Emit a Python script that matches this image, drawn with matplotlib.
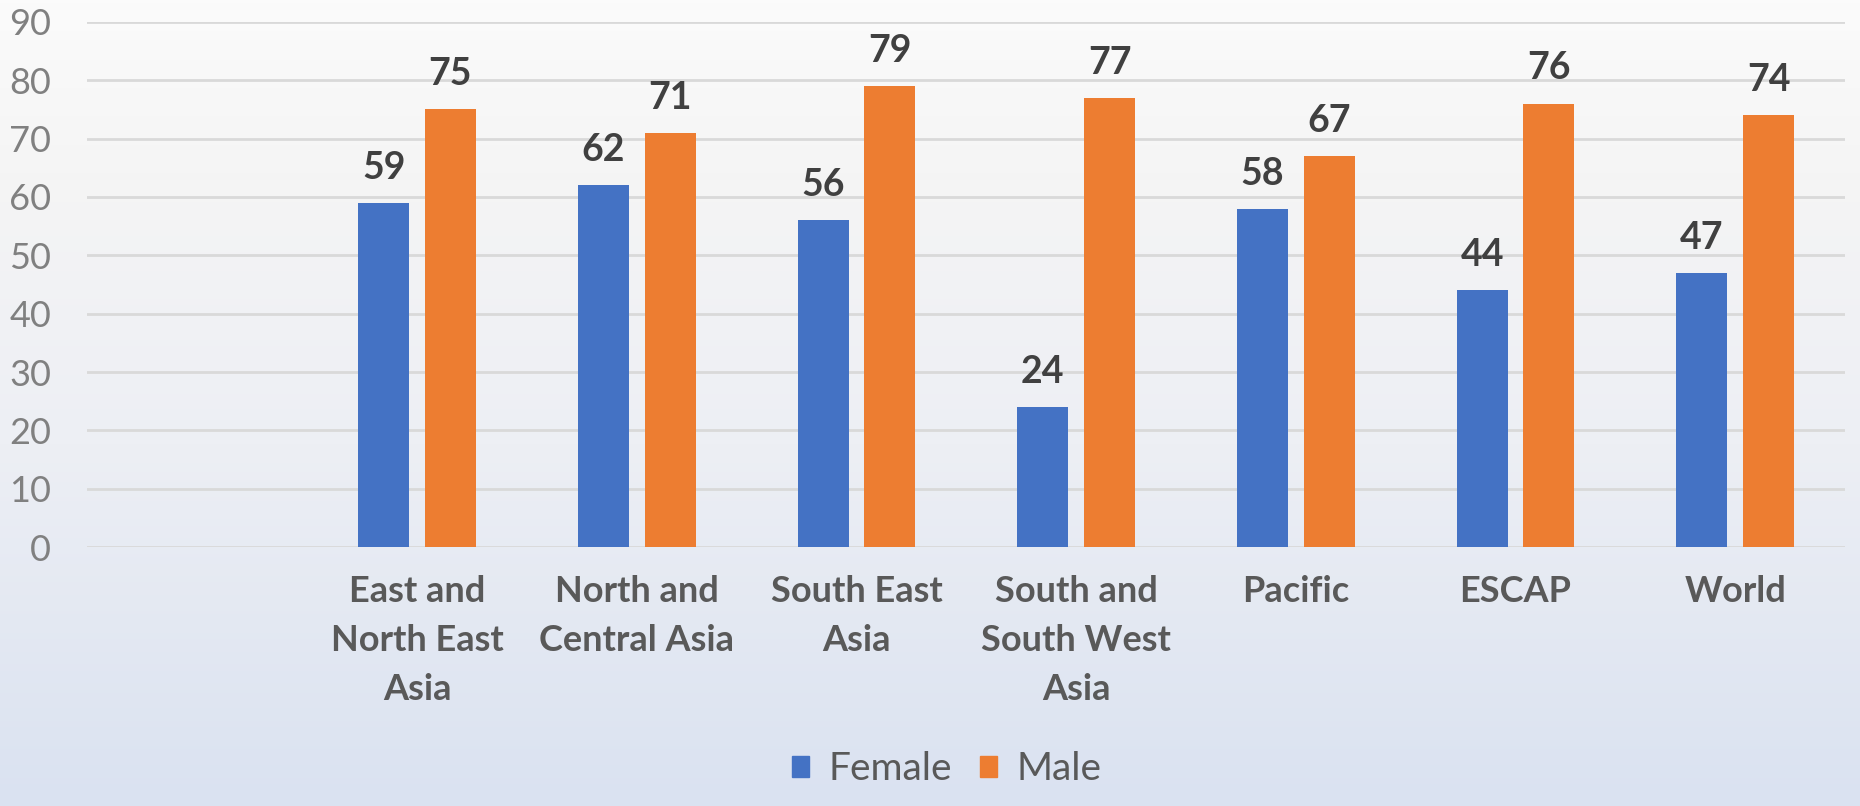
import numpy as np
from matplotlib import pyplot as plt
from matplotlib.colors import LinearSegmentedColormap
from matplotlib.patches import Patch

plt.rcParams['font.family'] = ['Lato', 'DejaVu Sans']

# data
regions = ["East and\nNorth East\nAsia", "North and\nCentral Asia", "South East\nAsia",
           "South and\nSouth West\nAsia", "Pacific", "ESCAP", "World"]
female = [59, 62, 56, 24, 58, 44, 47]
male = [75, 71, 79, 77, 67, 76, 74]
yticks = [0, 10, 20, 30, 40, 50, 60, 70, 80, 90]

blue = '#4472c4'
orange = '#ed7d31'

fig = plt.figure(figsize=(18.6, 8.06), dpi=100)

# background gradient over the whole figure
bg = fig.add_axes([0, 0, 1, 1], zorder=-10)
cmap = LinearSegmentedColormap.from_list('bg', [(0, '#dae2f1'), (0.45, '#edeff4'), (0.75, '#f4f4f4'), (1, '#fbfbfb')])
grad = np.linspace(0, 1, 256).reshape(-1, 1)
bg.imshow(grad, aspect='auto', cmap=cmap, origin='lower', extent=[0, 1, 0, 1])
bg.axis('off')

ax = fig.add_axes([0.047, 0.321, 0.945, 0.652])
ax.patch.set_alpha(0)

x = np.arange(len(regions)) + 1
w = 0.232
off = 0.152
b1 = ax.bar(x - off, female, w, color=blue, label='Female', zorder=3)
b2 = ax.bar(x + off, male, w, color=orange, label='Male', zorder=3)

for bars in (b1, b2):
    for r in bars:
        ax.annotate(str(int(r.get_height())), (r.get_x() + r.get_width() / 2, r.get_height()),
                    xytext=(0, 13), textcoords='offset points', ha='center', va='bottom',
                    fontsize=27, fontweight='bold', color='#404040')

ax.set_xlim(-0.5, len(regions) + 0.5)
ax.set_ylim(0, 90)
ax.set_yticks(yticks)
ax.set_xticks(x)
ax.set_xticklabels(regions, fontsize=26, fontweight='bold', color='#595959', linespacing=1.6)
ax.tick_params(axis='y', labelsize=26, labelcolor='#808080', length=0, pad=26)
ax.tick_params(axis='x', length=0, pad=20)
ax.grid(axis='y', color='#d9d9d9', linewidth=2, zorder=0)
for s in ax.spines.values():
    s.set_visible(False)

ax.legend(handles=[Patch(color=blue, label='Female'), Patch(color=orange, label='Male')],
          loc='center', bbox_to_anchor=(0.509, 0.046), bbox_transform=fig.transFigure,
          ncol=2, frameon=False, fontsize=28, labelcolor='#595959',
          handlelength=0.45, handleheight=0.45, handletextpad=0.5, columnspacing=0.7)

fig.savefig('out.png', dpi=100)
